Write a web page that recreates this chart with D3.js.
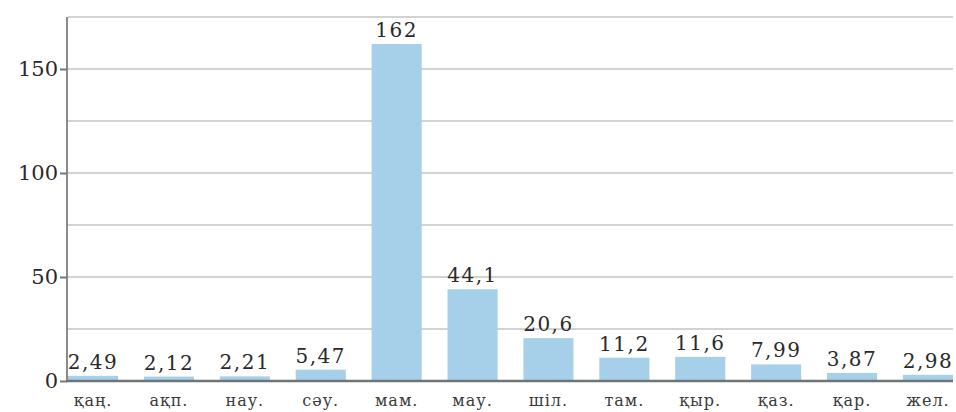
<!DOCTYPE html>
<html>
<head>
<meta charset="utf-8">
<script src="https://cdn.jsdelivr.net/npm/d3@7"></script>
<style>
  body { margin: 0; background: #fff; }
  svg { display: block; }
</style>
</head>
<body>
<div id="viz_div"></div>
<script>
// DATA
const months = ["қаң.", "ақп.", "нау.", "сәу.", "мам.", "мау.", "шіл.", "там.", "қыр.", "қаз.", "қар.", "жел."];
const values = [2.49, 2.12, 2.21, 5.47, 162, 44.1, 20.6, 11.2, 11.6, 7.99, 3.87, 2.98];
const valueLabels = ["2,49", "2,12", "2,21", "5,47", "162", "44,1", "20,6", "11,2", "11,6", "7,99", "3,87", "2,98"];
const gridTicks = [0, 25, 50, 75, 100, 125, 150, 175];
const labelTicks = [0, 50, 100, 150];

const W = 956, H = 412;
const font = "'DejaVu Serif', serif";

const svg = d3.select("#viz_div").append("svg")
    .attr("width", W)
    .attr("height", H);

const x = d3.scaleBand().domain(months).range([68, 953]).paddingInner(0.34).paddingOuter(0);
const y = d3.scaleLinear().domain([0, 175]).range([381, 17]);

// GRIDLINES
svg.append("g").selectAll("line")
    .data(gridTicks.filter(d => d > 0))
    .enter().append("line")
    .attr("x1", 68).attr("x2", 953)
    .attr("y1", d => y(d)).attr("y2", d => y(d))
    .attr("stroke", "#d2d2d2")
    .attr("stroke-width", 2);

// BARS
svg.append("g").selectAll("rect")
    .data(values)
    .enter().append("rect")
    .attr("x", (d, i) => x(months[i]))
    .attr("width", x.bandwidth())
    .attr("y", d => y(d))
    .attr("height", d => y(0) - y(d))
    .attr("fill", "#a6cfea");

// VALUE LABELS
svg.append("g").selectAll("text")
    .data(values)
    .enter().append("text")
    .attr("x", (d, i) => x(months[i]) + x.bandwidth() / 2)
    .attr("y", d => y(d) - 7)
    .attr("text-anchor", "middle")
    .style("font-family", font)
    .style("font-size", "20px")
    .style("letter-spacing", "1.5px")
    .attr("fill", "#2a2a2a")
    .text((d, i) => valueLabels[i]);

// AXES
svg.append("line")
    .attr("x1", 67).attr("x2", 67)
    .attr("y1", y(175)).attr("y2", y(0))
    .attr("stroke", "#8a8a8a").attr("stroke-width", 2);

svg.append("line")
    .attr("x1", 66).attr("x2", 953)
    .attr("y1", y(0)).attr("y2", y(0))
    .attr("stroke", "#6f7477").attr("stroke-width", 2.5);

const yAxis = svg.append("g")
    .attr("transform", "translate(67,0)")
    .call(d3.axisLeft(y).tickValues(labelTicks).tickSize(7).tickPadding(2).tickFormat(d3.format("d")));
yAxis.select(".domain").remove();
yAxis.selectAll("line").attr("stroke", "#777").attr("stroke-width", 2);
yAxis.selectAll("text")
    .style("font-family", font)
    .style("font-size", "21px")
    .attr("fill", "#2a2a2a");

// X LABELS
svg.append("g").selectAll("text")
    .data(months)
    .enter().append("text")
    .attr("x", d => x(d) + x.bandwidth() / 2)
    .attr("y", 406)
    .attr("text-anchor", "middle")
    .style("font-family", font)
    .style("font-size", "16px")
    .style("letter-spacing", "1px")
    .attr("fill", "#3a3a3a")
    .text(d => d);
</script>
</body>
</html>
